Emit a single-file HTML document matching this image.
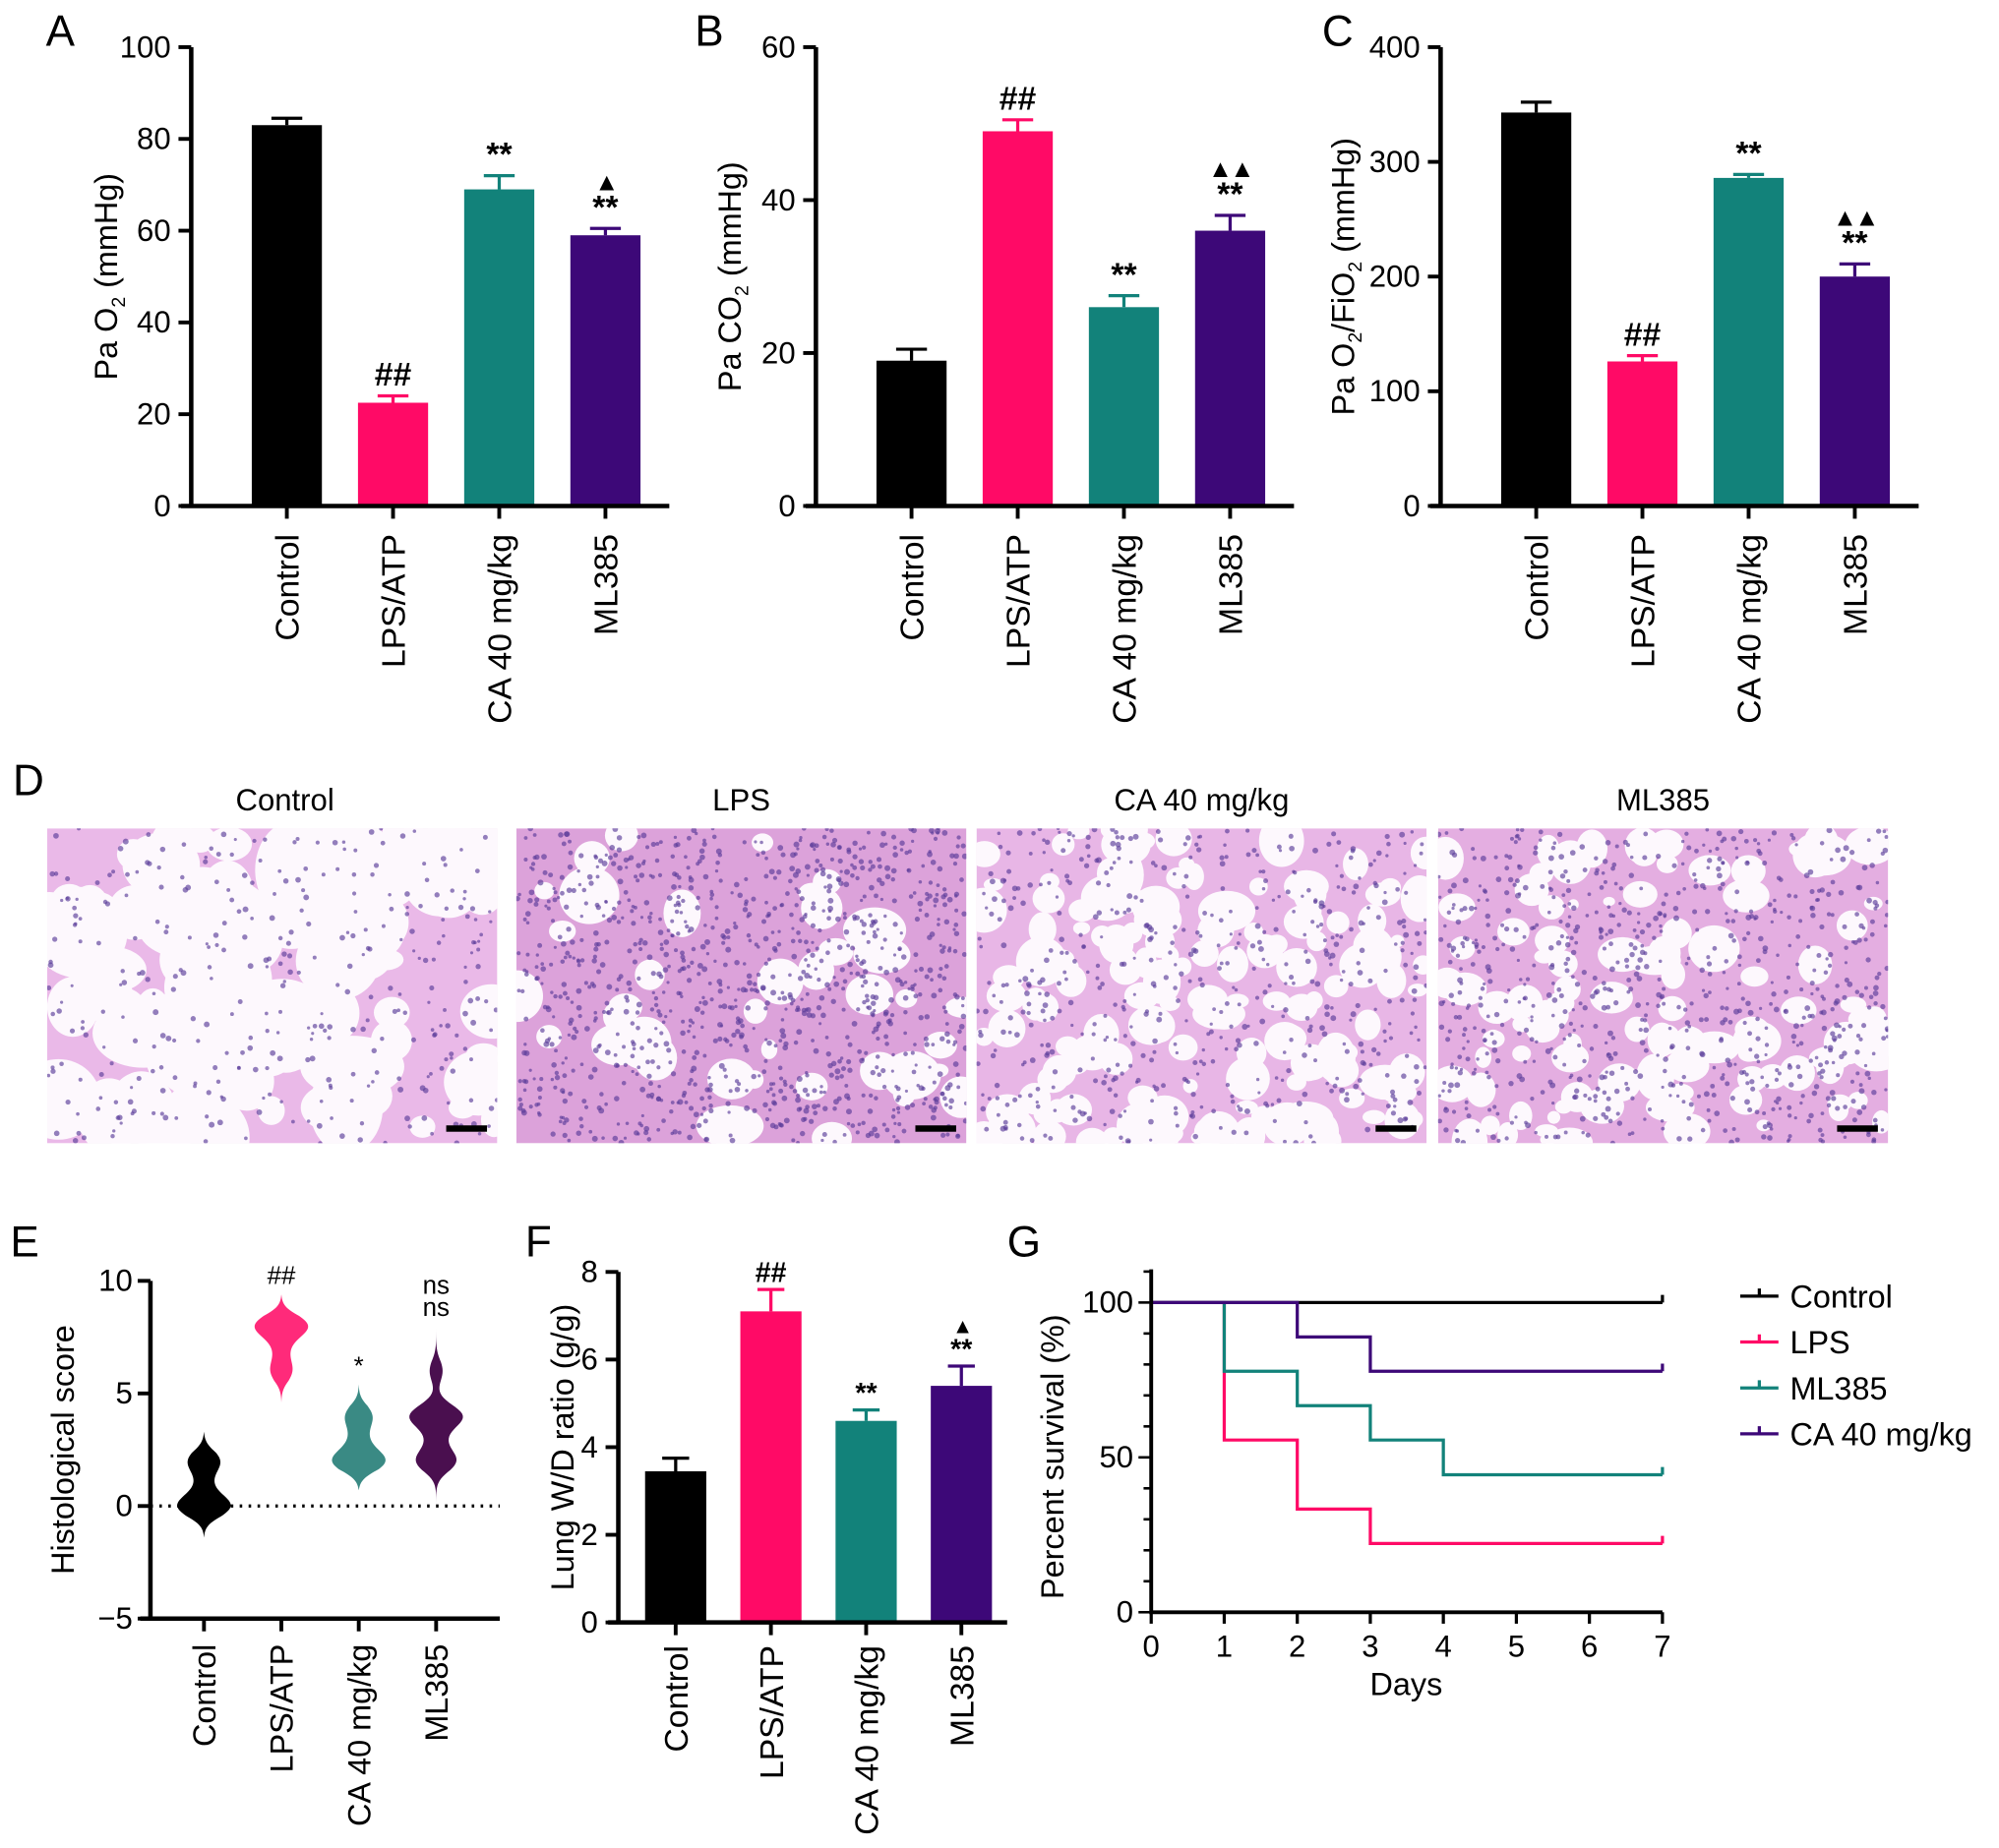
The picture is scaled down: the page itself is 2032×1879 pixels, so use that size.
<!DOCTYPE html>
<html><head><meta charset="utf-8"><style>
html,body{margin:0;padding:0;background:#fff;}
svg{display:block;font-family:"Liberation Sans",Arial,sans-serif;}
</style></head><body>
<svg id="fig" width="2032" height="1879" viewBox="0 0 1568 1450" preserveAspectRatio="none" xmlns="http://www.w3.org/2000/svg">
<rect x="0" y="0" width="1568" height="1450" fill="#fff"/>
</svg>
<script>
// ---- data ----
const cats = ['Control','LPS/ATP','CA 40 mg/kg','ML385'];
const colors = ['#000000','#ff0a66','#12827a','#3d0878'];
const aVals = [83, 22.5, 69, 59];
const aErr = [1.5, 1.5, 3, 1.5];
const aSig = [[], ['##'], ['**'], ['▲','**']];
const aTicks = [0,20,40,60,80,100];
const bVals = [19, 49, 26, 36];
const bErr = [1.5, 1.5, 1.5, 2];
const bSig = [[], ['##'], ['**'], ['▲▲','**']];
const bTicks = [0,20,40,60];
const cVals = [343, 126, 286, 200];
const cErr = [9, 5, 3, 11];
const cSig = [[], ['##'], ['**'], ['▲▲','**']];
const cTicks = [0,100,200,300,400];
const fVals = [3.45, 7.1, 4.6, 5.4];
const fErr = [0.3, 0.5, 0.25, 0.45];
const fSig = [[], ['##'], ['**'], ['▲','**']];
const fTicks = [0,2,4,6,8];
const eScores = [
  [0,0,0,0,0,1,2,2,2],
  [6,6,7,8,8,8,8,8],
  [2,2,2,2,3,4,4],
  [2,2,2,3,4,4,4,4,6]
];
const eRanges = [[-1.4,3.3],[4.6,9.4],[0.7,5.4],[0,8]];
const eViolinColors = ['#000000','#ff2a7a','#3a8a84','#4a0f4f'];
const eSig = [[], ['##'], ['*'], ['ns','ns']];
const eTicks = [-5,0,5,10];
const gDays = [0,1,2,3,4,5,6,7];
const gSeriesNames = ['Control','LPS','ML385','CA 40 mg/kg'];
const gSeriesColors = ['#000000','#ff0a66','#12827a','#3d0878'];
const gTimes = [[0,7],[0,1,2,3,7],[0,1,2,3,4,7],[0,2,3,7]];
const gSurv = [[100,100],[100,55.6,33.3,22.2,22.2],[100,77.8,66.7,55.6,44.4,44.4],[100,88.9,77.8,77.8]];
const gTicks = [0,50,100];

const NS='http://www.w3.org/2000/svg';
const svg=document.getElementById('fig');
function mk(tag, attrs, parent, text){
  const e=document.createElementNS(NS,tag);
  for(const k in attrs) e.setAttribute(k,attrs[k]);
  if(text!==undefined) e.textContent=text;
  (parent||svg).appendChild(e);
  return e;
}
function letter(t,x,y){
  const e=mk('text',{x:x,y:y,'font-size':34,fill:'#000'},svg,t);
  
  
}
letter('A',36,36);letter('B',545,36);letter('C',1037,36);letter('D',10,624);
letter('E',8,986);letter('F',412,986);letter('G',790,986);

function barChart(id, cfg, vals, errs, sig, ticks){
  const g=mk('g',{});
  
  
  const yS=v=>cfg.y0-(v-0)/cfg.max*(cfg.y0-cfg.yTop);
  const xC=i=>cfg.ax+cfg.pad+i*cfg.step;
  vals.forEach((v,i)=>{
    const b=mk('rect',{x:xC(i)-cfg.bw/2,y:yS(v),width:cfg.bw,height:cfg.y0-yS(v),fill:colors[i]},g);
    
    
    const top=yS(v+errs[i]);
    const eb=mk('path',{d:`M${xC(i)},${yS(v)}V${top}M${xC(i)-cfg.bw*0.22},${top}H${xC(i)+cfg.bw*0.22}`,stroke:colors[i],'stroke-width':2.5,fill:'none'},g);
    
    
    const s=sig[i];
    for(let k=0;k<s.length;k++){
      const isTri=s[k].indexOf('▲')>=0;
      const yy=top-cfg.sigGap-(s.length-1-k)*cfg.sigLine;
      const t=mk('text',{x:xC(i),y:yy,'text-anchor':'middle','font-size':isTri?cfg.sigFs*0.75:cfg.sigFs,'font-weight':'bold',fill:'#000','letter-spacing':isTri?-2:0},g,s[k]);
      
      
    }
    mk('line',{x1:xC(i),x2:xC(i),y1:cfg.y0,y2:cfg.y0+10,stroke:'#000','stroke-width':3},g);
    const lx=xC(i)+cfg.catFs*0.36, ly=cfg.y0+cfg.catOff;
    const lab=mk('text',{x:lx,y:ly,'text-anchor':'end','font-size':cfg.catFs,fill:'#000',transform:`rotate(-90 ${lx} ${ly})`},g,cats[i]);
    
    
  });
  const ax=mk('path',{d:`M${cfg.ax},${cfg.yTop}V${cfg.y0}M${cfg.ax-8},${cfg.y0}H${cfg.xEnd}`,stroke:'#000','stroke-width':3.5,fill:'none'},g);
  
  
  ticks.forEach(t=>{
    mk('line',{x1:cfg.ax-10,x2:cfg.ax,y1:yS(t),y2:yS(t),stroke:'#000','stroke-width':3},g);
    const tl=mk('text',{x:cfg.ax-16,y:yS(t)+8,'text-anchor':'end','font-size':cfg.tickFs,fill:'#000'},g,String(t));
    
    
  });
  const tx=cfg.titleX, ty=(cfg.y0+cfg.yTop)/2;
  const yt=mk('text',{x:tx,y:ty,'text-anchor':'middle','font-size':cfg.titleFs,fill:'#000',transform:`rotate(-90 ${tx} ${ty})`},g);
  
  
  let prevSub=false;
  cfg.title.forEach(p=>{
    if(p[1]){ mk('tspan',{'font-size':cfg.titleFs*0.6,dy:6},yt,p[0]); prevSub=true; }
    else { mk('tspan',{dy:prevSub?-6:0},yt,p[0]); prevSub=false; }
  });
  return g;
}
const common={pad:75,step:83.3,bw:55,y0:397,yTop:37,xEnd:525,catOff:22,catFs:26,tickFs:24,titleFs:25,sigFs:26,sigGap:8,sigLine:22};
barChart('pao2',Object.assign({},common,{ax:150,max:100,titleX:92,title:[['Pa O'],['2',true],[' (mmHg)']]}),aVals,aErr,aSig,aTicks);
barChart('paco2',Object.assign({},common,{ax:640,max:60,xEnd:1015,titleX:581,title:[['Pa CO'],['2',true],[' (mmHg)']]}),bVals,bErr,bSig,bTicks);
barChart('ratio',Object.assign({},common,{ax:1130,max:400,xEnd:1505,titleX:1062,title:[['Pa O'],['2',true],['/FiO'],['2',true],[' (mmHg)']]}),cVals,cErr,cSig,cTicks);
barChart('wd',Object.assign({},common,{ax:485,pad:45,step:74.7,bw:48,y0:1273,yTop:998,max:8,xEnd:790,catOff:18,titleX:450,sigFs:22,sigGap:6,sigLine:20,title:[['Lung W/D ratio (g/g)']]}),fVals,fErr,fSig,fTicks);

// ---- D histology (decorative texture) ----
let seed=12345;
function rnd(){seed=(seed*16807)%2147483647;return seed/2147483647;}
const hist=[{t:'Control',x:37,bg:'#eab9e8',holes:110,hr:[10,34],dots:350},
            {t:'LPS',x:405,bg:'#dca2da',holes:40,hr:[6,22],dots:1100},
            {t:'CA 40 mg/kg',x:766,bg:'#e8b6e6',holes:150,hr:[6,18],dots:550},
            {t:'ML385',x:1128,bg:'#e4aee1',holes:110,hr:[5,17],dots:800}];
const hy=650,hh=247,hw=353;
hist.forEach((h,i)=>{
  const g=mk('g',{});
  
  
  const cp=mk('clipPath',{id:'cp'+i},g);
  mk('rect',{x:h.x,y:hy,width:hw,height:hh},cp);
  const gi=mk('g',{'clip-path':`url(#cp${i})`},g);
  mk('rect',{x:h.x,y:hy,width:hw,height:hh,fill:h.bg},gi);
  for(let k=0;k<h.holes;k++){
    const r=h.hr[0]+rnd()*(h.hr[1]-h.hr[0]);
    mk('ellipse',{cx:h.x+rnd()*hw,cy:hy+rnd()*hh,rx:r*(0.8+rnd()*0.5),ry:r*(0.7+rnd()*0.5),fill:'#fdf8fd'},gi);
  }
  for(let k=0;k<h.dots;k++){
    mk('circle',{cx:h.x+rnd()*hw,cy:hy+rnd()*hh,r:1.2+rnd()*1.1,fill:'#5a3c9a','fill-opacity':0.65},gi);
  }
  const sb=mk('rect',{x:h.x+hw-40,y:hy+hh-14,width:32,height:5,fill:'#000'},g);
  
  
  const t=mk('text',{x:h.x+hw/2+(i==0?10:0),y:636,'text-anchor':'middle','font-size':24,fill:'#000'},g,h.t);
  
  
});

// ---- E violin ----
(function(){
  const ax=118,y0=1270,yTop=1005,min=-5,max=10,xEnd=392;
  const yS=v=>y0-(v-min)/(max-min)*(y0-yTop);
  const xC=i=>160+i*60.7;
  const g=mk('g',{});
  
  
  const zl=mk('line',{x1:ax,x2:xEnd,y1:yS(0),y2:yS(0),stroke:'#000','stroke-width':2.5,'stroke-dasharray':'2 5'},g);
  
  
  eScores.forEach((sc,i)=>{
    const bw=0.5, N=80;
    const [lo,hi]=eRanges[i];
    let maxD=0; const ds=[];
    for(let k=0;k<=N;k++){
      const v=lo+(hi-lo)*k/N; let d=0;
      sc.forEach(s=>{d+=Math.exp(-0.5*((v-s)/bw)**2);});
      const u=k/N, taper=Math.sqrt(Math.min(1,Math.min(u,1-u)*5));
      d*=taper;
      ds.push([v,d]); if(d>maxD)maxD=d;
    }
    const W=21;
    let p='';
    ds.forEach(([v,d],k)=>{p+=(k?'L':'M')+(xC(i)+d/maxD*W)+','+yS(v);});
    for(let k=ds.length-1;k>=0;k--){p+='L'+(xC(i)-ds[k][1]/maxD*W)+','+yS(ds[k][0]);}
    p+='Z';
    const vp=mk('path',{d:p,fill:eViolinColors[i]},g);
    
    
    const s=eSig[i];
    for(let k=0;k<s.length;k++){
      const t=mk('text',{x:xC(i),y:yS(hi)-8-(s.length-1-k)*17,'text-anchor':'middle','font-size':20,fill:'#000'},g,s[k]);
      
      
    }
    mk('line',{x1:xC(i),x2:xC(i),y1:y0,y2:y0+10,stroke:'#000','stroke-width':3},g);
    const lx=xC(i)+9, ly=y0+20;
    const lab=mk('text',{x:lx,y:ly,'text-anchor':'end','font-size':25,fill:'#000',transform:`rotate(-90 ${lx} ${ly})`},g,cats[i]);
    
    
  });
  const axs=mk('path',{d:`M${ax},${yTop}V${y0}M${ax-8},${y0}H${xEnd}`,stroke:'#000','stroke-width':3.5,fill:'none'},g);
  
  
  eTicks.forEach(t=>{
    mk('line',{x1:ax-10,x2:ax,y1:yS(t),y2:yS(t),stroke:'#000','stroke-width':3},g);
    const tl=mk('text',{x:ax-14,y:yS(t)+8,'text-anchor':'end','font-size':24,fill:'#000'},g,(t<0?'\u2212'+(-t):String(t)));
    
    
  });
  const ty=(y0+yTop)/2;
  const yt=mk('text',{x:58,y:ty,'text-anchor':'middle','font-size':25,fill:'#000',transform:`rotate(-90 58 ${ty})`},g,'Histological score');
  
  
})();

// ---- G survival ----
(function(){
  const ax=903,y0=1265,xEnd=1304;
  const xS=d=>ax+d/7*(xEnd-ax);
  const yS2=v=>y0-v/100*(y0-1022);
  const g=mk('g',{});
  
  
  gTimes.forEach((ts,i)=>{
    let p='M'+xS(ts[0])+','+yS2(gSurv[i][0]);
    for(let k=1;k<ts.length;k++){p+='H'+xS(ts[k])+'V'+yS2(gSurv[i][k]);}
    const last=ts[ts.length-1];
    p+='M'+xS(last)+','+(yS2(gSurv[i][gSurv[i].length-1])-6)+'V'+(yS2(gSurv[i][gSurv[i].length-1]));
    const l=mk('path',{d:p,stroke:gSeriesColors[i],'stroke-width':2.5,fill:'none'},g);
    
    
  });
  const axs=mk('path',{d:`M${ax},996V${y0}H${xEnd}`,stroke:'#000','stroke-width':3,fill:'none'},g);
  
  
  for(let v=0;v<=110;v+=10){
    mk('line',{x1:ax-(v%50===0?10:6),x2:ax,y1:yS2(v),y2:yS2(v),stroke:'#000','stroke-width':2},g);
  }
  gTicks.forEach(t=>{
    const tl=mk('text',{x:ax-14,y:yS2(t)+8,'text-anchor':'end','font-size':24,fill:'#000'},g,String(t));
    
    
  });
  gDays.forEach(d=>{
    mk('line',{x1:xS(d),x2:xS(d),y1:y0,y2:y0+9,stroke:'#000','stroke-width':2.5},g);
    const tl=mk('text',{x:xS(d),y:y0+35,'text-anchor':'middle','font-size':24,fill:'#000'},g,String(d));
    
    
  });
  const xt=mk('text',{x:1103,y:1330,'text-anchor':'middle','font-size':25,fill:'#000'},g,'Days');
  
  
  const ty=1143;
  const yt=mk('text',{x:834,y:ty,'text-anchor':'middle','font-size':25,fill:'#000',transform:`rotate(-90 834 ${ty})`},g,'Percent survival (%)');
  
  
  gSeriesNames.forEach((n,i)=>{
    const y=1017+i*36;
    const lg=mk('g',{},g);
    
    
    mk('path',{d:`M1365,${y}H1395M1380,${y-6}V${y}`,stroke:gSeriesColors[i],'stroke-width':2.5,fill:'none'},lg);
    mk('text',{x:1404,y:y+9,'font-size':25,fill:'#000'},lg,n);
  });
})();
</script>
</body></html>
